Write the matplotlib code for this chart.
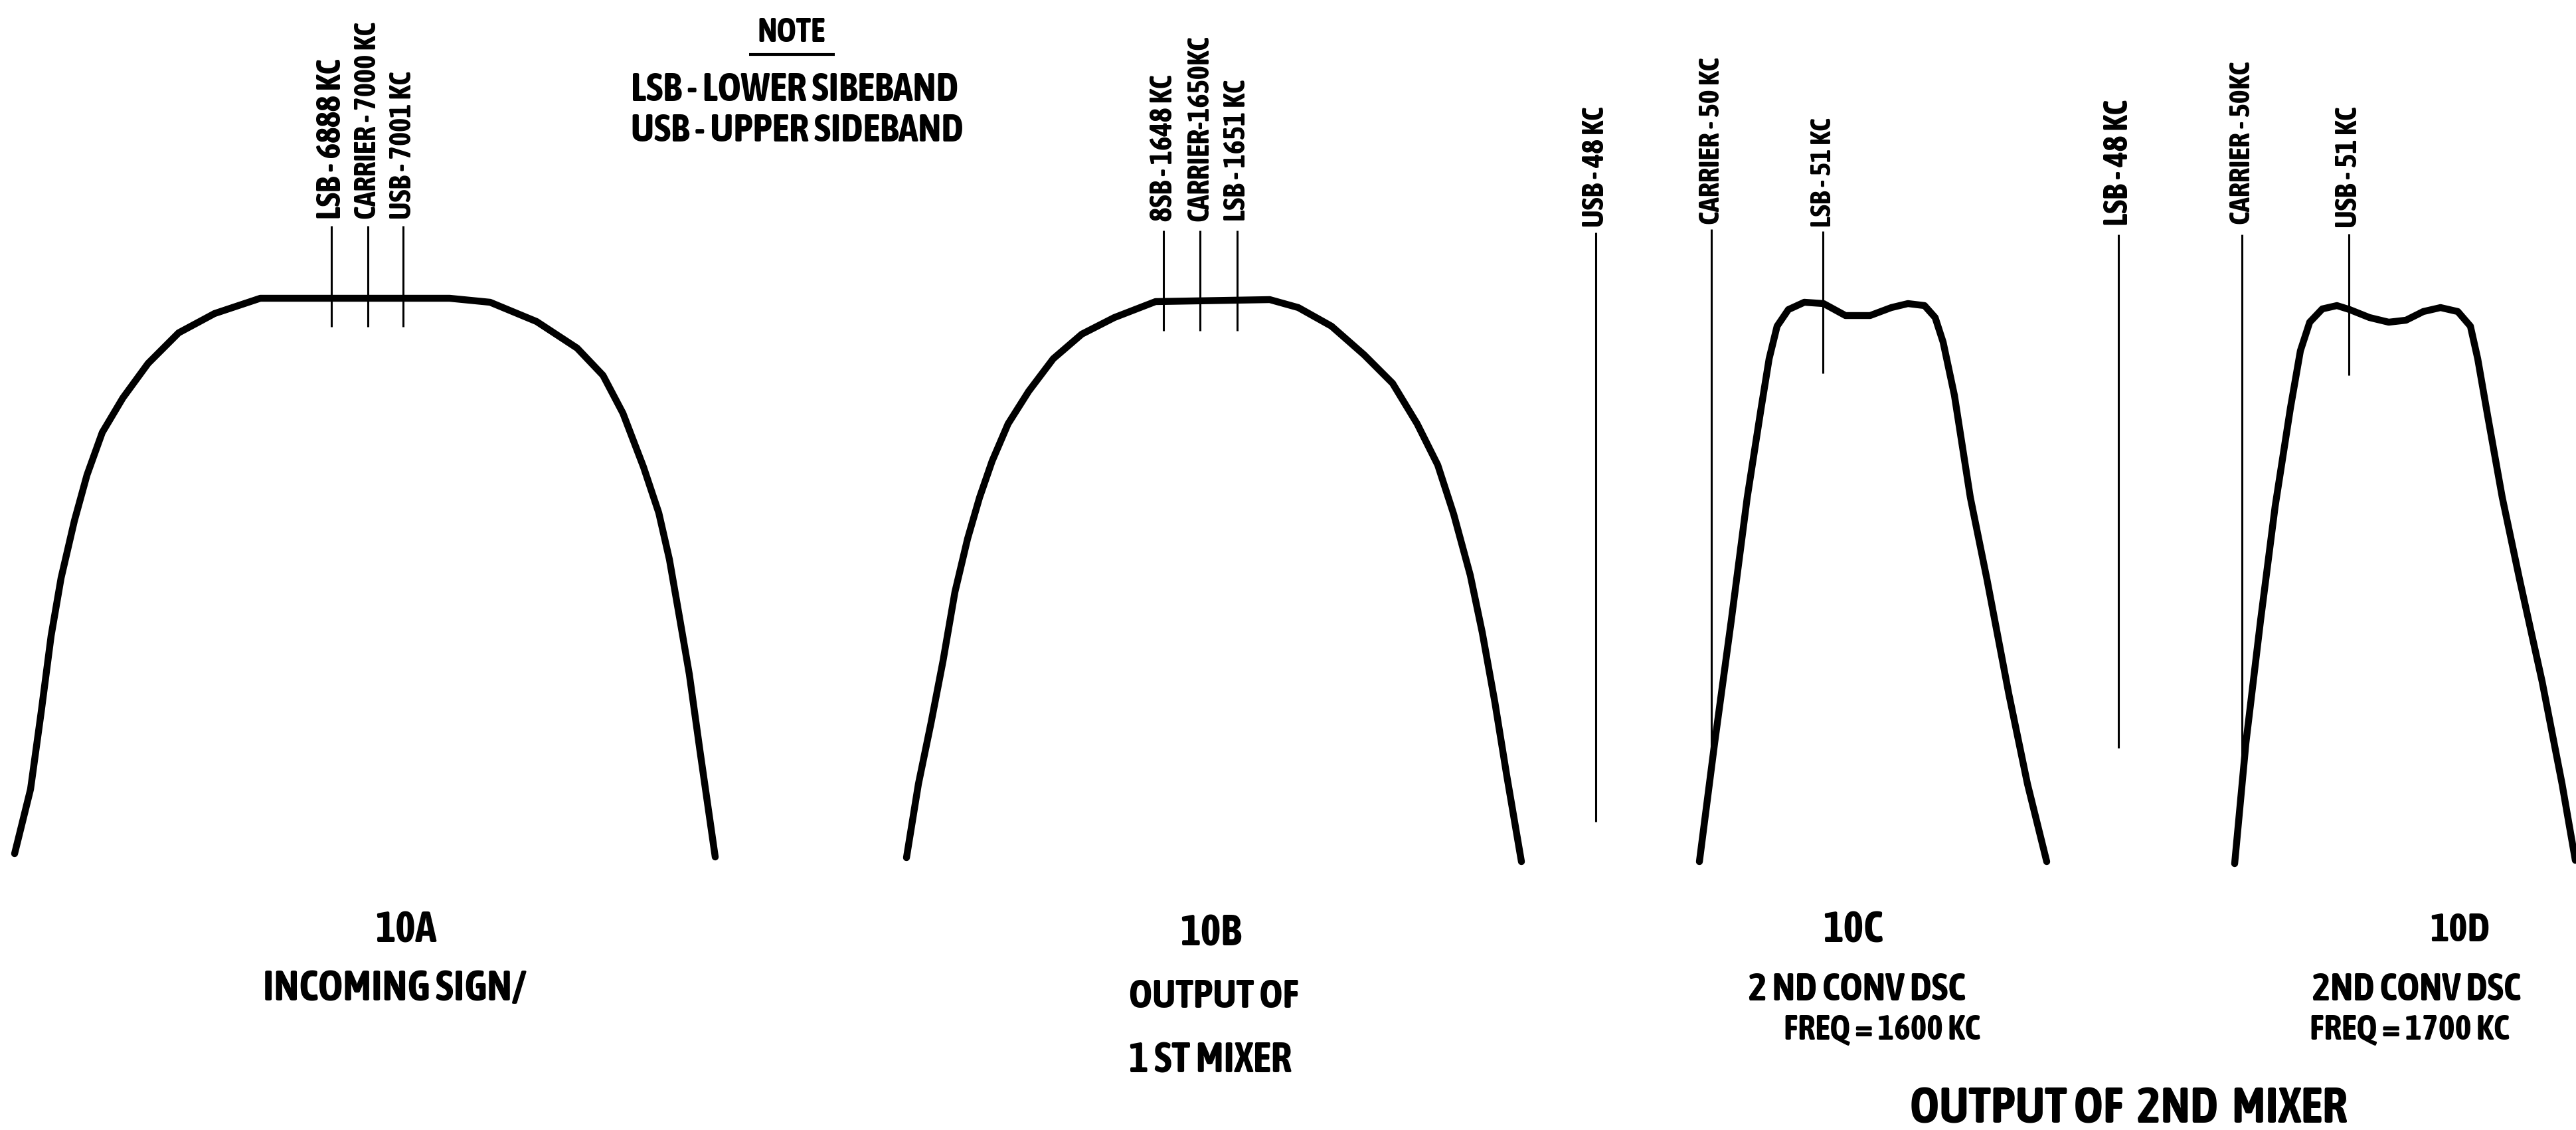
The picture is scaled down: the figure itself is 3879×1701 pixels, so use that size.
import matplotlib
matplotlib.use("Agg")
import matplotlib.pyplot as plt
from matplotlib import font_manager

# narrow lettering: prefer an upright condensed face that comes with a bold weight
def weight_of(f):
    w = f.weight
    if isinstance(w, str):
        w = font_manager.weight_dict.get(w, 400)
    return w

def pick_font():
    narrow = [f for f in font_manager.fontManager.ttflist
              if f.style == "normal" and ("Narrow" in f.name or "Condensed" in f.name
              or f.stretch in ("condensed", "semi-condensed", "extra-condensed"))]
    bold = [f for f in narrow if weight_of(f) >= 600]
    for group in (bold, narrow):
        if group:
            f = sorted(group, key=lambda e: e.name)[0]
            st = f.stretch if isinstance(f.stretch, str) else "normal"
            return f.name, st
    return "Liberation Sans", "normal"

FONT, STRETCH = pick_font()
plt.rcParams["font.family"] = [FONT, "DejaVu Sans"]
plt.rcParams["font.weight"] = "bold"
plt.rcParams["font.style"] = "normal"
plt.rcParams["font.stretch"] = STRETCH

# response curves, drawing units (x right, y down)
a_x = [22, 46, 62, 77, 92, 112, 131, 154, 185, 223, 269, 323, 392, 677, 738, 808,
       869, 908, 938, 969, 992, 1008, 1023, 1038, 1054, 1077]
a_y = [1285, 1188, 1072, 957, 870, 784, 715, 651, 599, 547, 501, 472, 449, 449, 455,
       484, 524, 565, 622, 703, 772, 842, 928, 1015, 1130, 1290]

b_x = [1365, 1383, 1402, 1420, 1438, 1457, 1475, 1494, 1518, 1549, 1586, 1629, 1678,
       1740, 1912, 1955, 2005, 2054, 2097, 2134, 2165, 2189, 2214, 2232, 2251, 2269, 2291]
b_y = [1291, 1180, 1088, 995, 891, 811, 749, 694, 638, 589, 540, 503, 478, 454, 451,
       463, 491, 534, 577, 638, 700, 774, 866, 952, 1057, 1168, 1297]

c_x = [2559, 2582, 2607, 2631, 2652, 2664, 2676, 2693, 2717, 2746, 2779, 2816, 2848,
       2873, 2898, 2914, 2926, 2943, 2967, 2992, 3025, 3053, 3082]
c_y = [1297, 1118, 934, 749, 614, 540, 491, 466, 455, 457, 475, 475, 463, 457, 460,
       478, 515, 595, 749, 872, 1045, 1180, 1297]

d_x = [3365, 3382, 3404, 3426, 3449, 3464, 3478, 3497, 3519, 3538, 3568, 3597, 3623,
       3649, 3675, 3701, 3720, 3731, 3746, 3768, 3794, 3828, 3858, 3878]
d_y = [1300, 1118, 934, 762, 614, 528, 485, 465, 460, 466, 478, 485, 482, 469, 463,
       469, 491, 540, 626, 749, 872, 1026, 1180, 1295]

# frequency marker lines and their labels
mark_x = [499, 554, 607, 1752, 1807, 1863, 2403, 2577, 2745, 3190, 3376, 3537]
mark_top = [340, 340, 340, 347, 347, 347, 350, 345, 348, 353, 353, 352]
mark_bot = [492, 492, 492, 498, 498, 498, 1237, 1155, 562, 1126, 1180, 565]
mark_lbl = ["LSB - 6888 KC", "CARRIER - 7000 KC", "USB - 7001 KC",
            "8SB - 1648 KC", "CARRIER-1650KC", "LSB - 1651 KC",
            "USB - 48 KC", "CARRIER - 50 KC", "LSB - 51 KC",
            "LSB - 48 KC", "CARRIER - 50KC", "USB - 51 KC"]
mark_lbl_y = [330, 330, 330, 333, 333, 333, 342, 338, 342, 340, 338, 343]
mark_lbl_len = [242, 297, 223, 221, 279, 213, 182, 251, 165, 190, 245, 183]

note_lines = ["LSB - LOWER SIBEBAND", "USB - UPPER SIDEBAND"]

# captions: text, x, y, align, width in the reference, max size
captions = [
    ("10A", 611, 1400, "center", 92, 54),
    ("INCOMING SIGN/", 594, 1488, "center", 396, 54),
    ("10B", 1823, 1405, "center", 92, 54),
    ("OUTPUT OF", 1700, 1500, "left", 255, 54),
    ("1 ST MIXER", 1700, 1597, "left", 245, 54),
    ("10C", 2790, 1400, "center", 90, 54),
    ("2 ND CONV DSC", 2633, 1490, "left", 327, 46),
    ("FREQ = 1600 KC", 2686, 1550, "left", 296, 46),
    ("10D", 3704, 1400, "center", 90, 54),
    ("2ND CONV DSC", 3482, 1490, "left", 314, 46),
    ("FREQ = 1700 KC", 3478, 1550, "left", 301, 46),
    ("OUTPUT OF  2ND  MIXER", 3205, 1670, "center", 659, 60),
]

fig = plt.figure(figsize=(38.8, 17.01), dpi=100)
ax = fig.add_axes([0, 0, 1, 1])
ax.set_xlim(0, 3880)
ax.set_ylim(1701, 0)
ax.axis("off")

for xs, ys in [(a_x, a_y), (b_x, b_y), (c_x, c_y), (d_x, d_y)]:
    ax.plot(xs, ys, color="black", lw=7.5, solid_joinstyle="round", solid_capstyle="round")

ax.vlines(mark_x, mark_top, mark_bot, color="black", lw=2.2)

fitted = []  # (text, target length, max size, rotated)
for x, y, s, n in zip(mark_x, mark_lbl_y, mark_lbl, mark_lbl_len):
    t = ax.text(x, y, s, rotation=90, ha="center", va="bottom", fontsize=30)
    fitted.append((t, n, 44, True))

# note block
t = ax.text(1192, 49, "NOTE", ha="center", va="center", fontsize=30)
fitted.append((t, 102, 46, False))
ax.hlines(82, 1128, 1257, color="black", lw=3)
t = ax.text(950, 136, note_lines[0], ha="left", va="center", fontsize=30)
fitted.append((t, 494, 46, False))
t = ax.text(950, 197, note_lines[1], ha="left", va="center", fontsize=30)
fitted.append((t, 501, 46, False))

for s, x, y, ha, w, mx in captions:
    t = ax.text(x, y, s, ha=ha, va="center", fontsize=30)
    fitted.append((t, w, mx, False))

# size each text so its length matches the reference lettering
fig.canvas.draw()
r = fig.canvas.get_renderer()
for t, n, mx, rot in fitted:
    bb = t.get_window_extent(r)
    length = bb.height if rot else bb.width
    t.set_fontsize(min(t.get_fontsize() * n / length, mx))

fig.savefig("out.png", dpi=100, facecolor="white")
